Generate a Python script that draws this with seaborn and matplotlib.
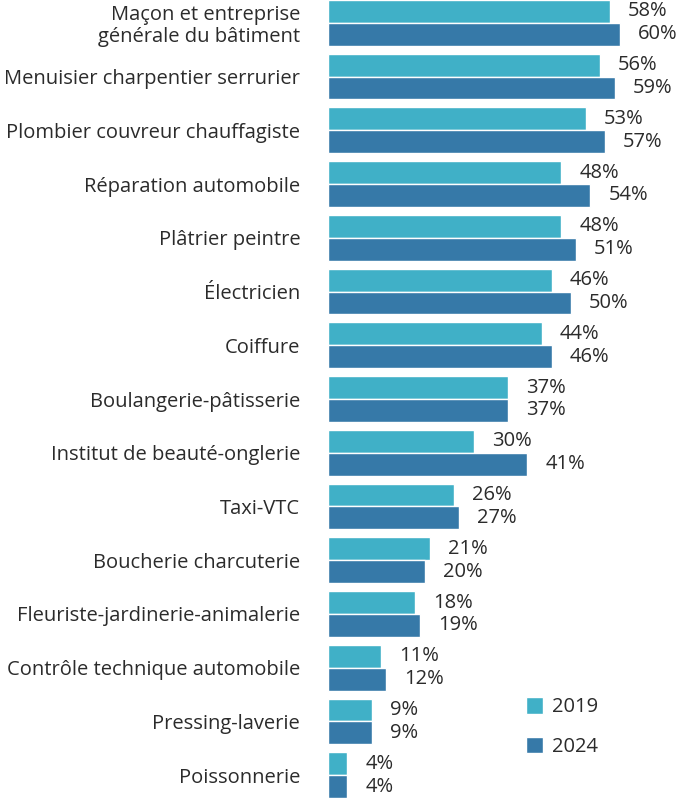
import pandas as pd
import matplotlib.pyplot as plt
import seaborn as sns

# Données
metiers = [
    "Maçon et entreprise\ngénérale du bâtiment",
    "Menuisier charpentier serrurier",
    "Plombier couvreur chauffagiste",
    "Réparation automobile",
    "Plâtrier peintre",
    "Électricien",
    "Coiffure",
    "Boulangerie-pâtisserie",
    "Institut de beauté-onglerie",
    "Taxi-VTC",
    "Boucherie charcuterie",
    "Fleuriste-jardinerie-animalerie",
    "Contrôle technique automobile",
    "Pressing-laverie",
    "Poissonnerie",
]
val_2019 = [58, 56, 53, 48, 48, 46, 44, 37, 30, 26, 21, 18, 11, 9, 4]
val_2024 = [60, 59, 57, 54, 51, 50, 46, 37, 41, 27, 20, 19, 12, 9, 4]
annees = ["2019", "2024"]
couleurs = {"2019": "#40b0c7", "2024": "#3679a8"}

df = pd.DataFrame({
    "metier": metiers * 2,
    "valeur": val_2019 + val_2024,
    "annee": [annees[0]] * len(metiers) + [annees[1]] * len(metiers),
})

sns.set_style("white")
plt.rcParams["font.family"] = ["Open Sans", "DejaVu Sans"]
texte = "#2b2b2b"
taille = 14.5

fig = plt.figure(figsize=(6.83, 7.98), dpi=100)
ax = fig.add_axes([328 / 683, 0, 355 / 683, 1])

sns.barplot(data=df, y="metier", x="valeur", hue="annee", palette=couleurs,
            saturation=1, orient="h", width=0.85, edgecolor="white",
            linewidth=1, ax=ax)

for c in ax.containers:
    ax.bar_label(c, labels=[f"{v:.0f}%" for v in c.datavalues], padding=13,
                 fontsize=taille, color=texte)

ax.set_xlim(0, 355 / 4.86)
ax.set_ylim(len(metiers) - 0.575, -0.425)
ax.set_xlabel("")
ax.set_ylabel("")
ax.set_xticks([])
ax.tick_params(axis="y", length=0, pad=20, labelsize=taille, labelcolor=texte)
for t in ax.get_yticklabels():
    t.set_linespacing(1.1)
sns.despine(ax=ax, left=True, bottom=True)

sns.move_legend(ax, loc="upper left", bbox_to_anchor=(0.558, 0.126), frameon=False,
                title=None, fontsize=taille, handlelength=0.85, handleheight=0.85,
                labelspacing=0.95, handletextpad=0.45, borderpad=0, borderaxespad=0,
                labelcolor=texte)

fig.savefig("out.png", dpi=100)
